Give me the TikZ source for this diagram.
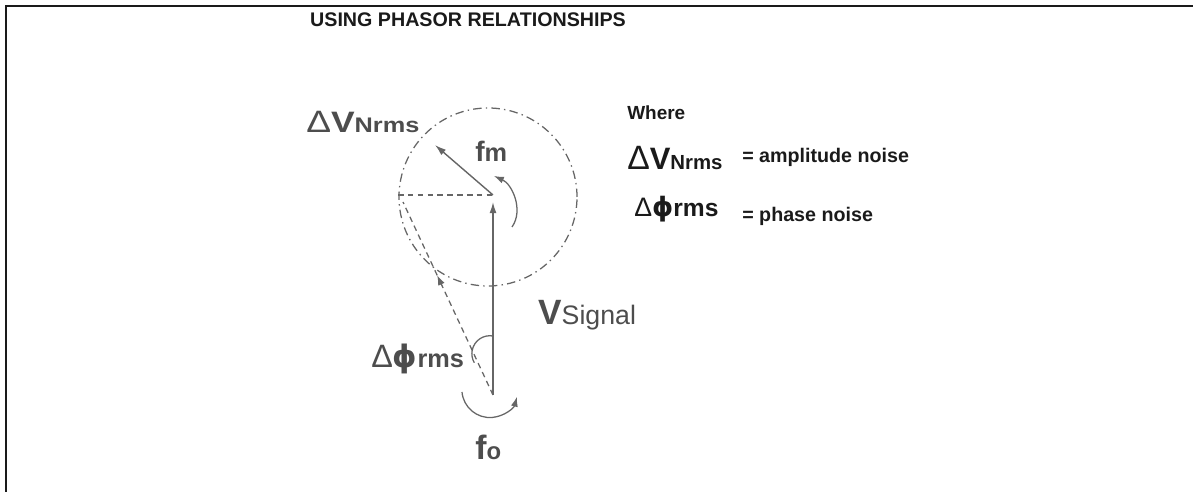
\documentclass[tikz,border=0pt]{standalone}
\usepackage{fontspec}
\setmainfont{Liberation Sans}
\newfontfamily\widesans[FakeStretch=1.2]{Liberation Sans}
\newfontfamily\phisans{DejaVu Sans}
\usetikzlibrary{positioning,arrows.meta,calc}
\definecolor{inkgray}{HTML}{666666}
\definecolor{labgray}{HTML}{4D4D4D}
\definecolor{legblack}{HTML}{1A1A1A}
\newcommand{\fsz}[1]{\fontsize{#1}{#1}\selectfont}

\begin{document}
\begin{tikzpicture}[x=0.25mm,y=0.25mm,
  lbl/.style={text=labgray,anchor=base west,inner sep=0pt},
  leg/.style={text=legblack,anchor=base west,inner sep=0pt},
  vec/.style={draw=inkgray,line width=1pt,-{Latex[length=8pt,width=5pt]}},
  guide/.style={draw=inkgray,line width=0.9pt,dash pattern=on 4pt off 3pt},
  orbit/.style={draw=inkgray,line width=0.9pt,dash pattern=on 6pt off 3pt on 1pt off 3pt},
  turn/.style={draw=inkgray,line width=0.9pt}
]
  \useasboundingbox (0,0) rectangle (1193,492);
  % frame and title
  \draw[line width=1.42pt,legblack] (6,0) -- (6,486) -- (1193,486);
  \node[anchor=base,text=legblack,inner sep=0pt,font=\bfseries\fsz{14}] (title) at (468,465) {USING PHASOR RELATIONSHIPS};

  % phasor geometry
  \coordinate (base) at (493,97);
  \coordinate (top) at (493,297);
  \coordinate (vtip) at (493,290);
  \coordinate (ntip) at (435,347);
  \coordinate (left) at (398,297);
  \coordinate (res) at (403,290);
  \coordinate (mid) at ($(base)!0.62!(res)$);
  \coordinate (ctr) at (488,295);

  \draw[orbit] (ctr) circle[radius=89];
  \draw[guide] (left) -- (top);
  \draw[guide,-{Latex[length=7pt,width=5pt]}] (base) -- (mid);
  \draw[guide] (mid) -- (res);
  \draw[vec] (base) -- (vtip);
  \draw[vec] (top) -- (ntip);

  % rotation arcs
  \draw[turn] (493,156) arc[start angle=80,end angle=210,radius=18];
  \draw[turn,-{Latex[length=7pt,width=5pt]}] (462,100) arc[start angle=185,end angle=345,radius=28];
  \draw[turn,-{Latex[length=7pt,width=5pt]}] (512,265) .. controls (524,282) and (512,308) .. (494,316);

  % labels
  \node[lbl] (dvn) at (306,359) {\widesans{\fsz{22}Δ}{\bfseries\fsz{21}V}{\bfseries\fsz{15}Nrms}};
  \node[lbl] (fm) at (475,330) {\bfseries{\fsz{20}f}{\fsz{18}m}};
  \node[lbl] (vsig) at (538,167) {{\bfseries\fsz{25}V}{\fsz{19}Signal}};
  \node[lbl] (dphi) at (371,124) {{\fsz{23}Δ}{\phisans\bfseries\fsz{22}ϕ}{\bfseries\fsz{18}rms}};
  \node[lbl] (fo) at (475,32) {\bfseries{\fsz{24}f}{\fsz{17}o}};

  % legend
  \node[leg,font=\bfseries\fsz{13.5}] (where) at (627,372) {Where};
  \node[leg] (kdv) at (627,322) {{\fsz{24}Δ}{\bfseries\fsz{22}V}{\bfseries\fsz{14.5}Nrms}};
  \node[leg,font=\bfseries\fsz{14}] (kamp) at (742,329) {= amplitude noise};
  \node[leg] (kdp) at (634,275) {{\fsz{19}Δ}{\phisans\bfseries\fsz{19}ϕ}{\bfseries\fsz{17.5}rms}};
  \node[leg,font=\bfseries\fsz{14}] (kph) at (742,270) {= phase noise};
\end{tikzpicture}
\end{document}
